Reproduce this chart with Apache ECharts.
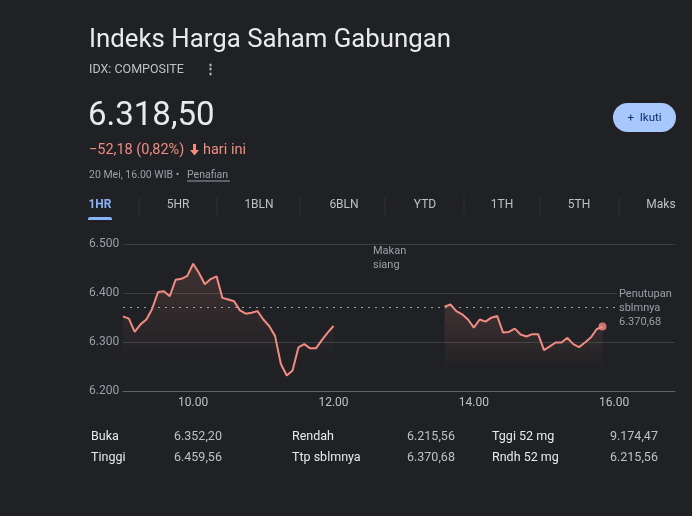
<!DOCTYPE html>
<html><head><meta charset="utf-8">
<script src="https://cdn.jsdelivr.net/npm/echarts@6/dist/echarts.min.js"></script>
<style>html,body{margin:0;padding:0;background:#202124;}#c{width:692px;height:516px;}</style>
</head><body><div id="c"></div>
<script>
var morningTimes = ["09:00","09:05","09:10","09:15","09:20","09:25","09:30","09:35","09:40","09:45","09:50","09:55","10:00","10:05","10:10","10:15","10:20","10:25","10:30","10:35","10:40","10:45","10:50","10:55","11:00","11:05","11:10","11:15","11:20","11:25","11:30","11:35","11:40","11:45","11:50","11:55","12:00"];
var morningValues = [6352.2,6347.6,6320.6,6336.0,6346.0,6368.0,6402.0,6403.6,6393.5,6427.0,6429.0,6435.0,6459.6,6440.7,6418.0,6428.5,6434.0,6390.0,6386.7,6383.0,6364.5,6357.7,6359.7,6363.0,6346.0,6332.7,6312.5,6255.0,6231.6,6241.7,6289.0,6295.7,6287.0,6287.0,6303.8,6319.3,6332.7];
var afternoonTimes = ["13:35","13:40","13:45","13:50","13:55","14:00","14:05","14:10","14:15","14:20","14:25","14:30","14:35","14:40","14:45","14:50","14:55","15:00","15:05","15:10","15:15","15:20","15:25","15:30","15:35","15:40","15:45","15:50"];
var afternoonValues = [6371.9,6376.6,6363.0,6356.4,6346.0,6329.4,6346.0,6341.5,6349.6,6353.0,6319.3,6320.6,6327.3,6315.2,6311.2,6316.0,6316.0,6283.5,6291.0,6299.0,6299.0,6308.5,6295.7,6289.6,6299.0,6309.0,6326.0,6331.4];
var prevClose = 6370.68;
var yTicks = [6200, 6300, 6400, 6500];
var xTickLabels = ["10.00","12.00","14.00","16.00"];
var tabs = ["1HR","5HR","1BLN","6BLN","YTD","1TH","5TH","Maks"];
var statLabels = [["Buka","Tinggi"],["Rendah","Ttp sblmnya"],["Tggi 52 mg","Rndh 52 mg"]];
var statValues = [["6.352,20","6.459,56"],["6.215,56","6.370,68"],["9.174,47","6.215,56"]];

function toHours(t){var p=t.split(":");return +p[0]+(+p[1])/60;}
function pairs(ts,vs){return ts.map(function(t,i){return [toHours(t),vs[i]];});}
function fmtY(v){var s=String(Math.round(v));return s.charAt(0)+"."+s.slice(1);}

var FONT = "Roboto, 'Noto Sans', sans-serif";
var LINE = "#f28b82";
var chart = echarts.init(document.getElementById('c'), null, {renderer:'canvas'});

function txt(x,y,text,size,color,opts){
  opts = opts||{};
  return {type:'text', z:100, x:x, y:y, style:{text:text, fill:color,
    font:(opts.weight||'normal')+' '+size+'px '+FONT,
    textAlign:opts.align||'left', align:opts.align||'left',
    textVerticalAlign:'middle', verticalAlign:'middle'}};
}

var graphics = [];
graphics.push(txt(89,41,"Indeks Harga Saham Gabungan",25.8,"#e8eaed"));
graphics.push(txt(89,70,"IDX: COMPOSITE",12.5,"#bdc1c6"));
graphics.push(txt(204,70,"⋮",13,"#bdc1c6",{weight:'bold'}));
graphics.push(txt(88,117,"6.318,50",33,"#e8eaed"));
graphics.push(txt(89,150,"−52,18 (0,82%)",14.5,LINE));
graphics.push({type:'polygon', z:100, shape:{points:[[193,144],[196,144],[196,150],[199,150],[194.5,155.5],[190,150],[193,150]]}, style:{fill:LINE}});
graphics.push(txt(203,150,"hari ini",14.5,LINE));
graphics.push(txt(89,175,"20 Mei, 16.00 WIB • ",10.5,"#9aa0a6"));
graphics.push(txt(187,175,"Penafian",10.5,"#9aa0a6"));
graphics.push({type:'line', z:100, shape:{x1:187,y1:181,x2:230,y2:181}, style:{stroke:'#9aa0a6',lineWidth:1}});
// button
graphics.push({type:'rect', z:100, shape:{x:613,y:103,width:63,height:29,r:14.5}, style:{fill:'#a8c7fa'}});
graphics.push(txt(644.5,118,"+  Ikuti",11.5,"#062e6f",{align:'center'}));
// tabs
var tabX = [100,178,259,344,425,502,579,661];
tabs.forEach(function(t,i){
  graphics.push(txt(tabX[i],205,t,12, i===0?'#8ab4f8':'#bdc1c6',{align:'center',weight:i===0?'bold':'normal'}));
});
[139,217,300,385,464,540,619].forEach(function(x){
  graphics.push({type:'line', z:100, shape:{x1:x,y1:197,x2:x,y2:215}, style:{stroke:'#303134',lineWidth:1}});
});
graphics.push({type:'rect', z:100, shape:{x:88,y:217,width:24,height:3,r:[2,2,0,0]}, style:{fill:'#8ab4f8'}});
// lunch label
graphics.push(txt(373,251,"Makan",11,"#9aa0a6"));
graphics.push(txt(373,265,"siang",11,"#9aa0a6"));
// previous close label with background
graphics.push({type:'rect', z:99, shape:{x:617,y:287,width:75,height:46}, style:{fill:'#202124'}});
graphics.push(txt(619,294,"Penutupan",11,"#9aa0a6"));
graphics.push(txt(619,308,"sblmnya",11,"#9aa0a6"));
graphics.push(txt(619,322,"6.370,68",11,"#9aa0a6"));
// stats table
var colLX=[91,292,492], colVX=[174,407,610], rowY=[437,458];
for(var c=0;c<3;c++){for(var r=0;r<2;r++){
  graphics.push(txt(colLX[c],rowY[r],statLabels[c][r],12.5,"#e8eaed"));
  graphics.push(txt(colVX[c],rowY[r],statValues[c][r],12.5,"#bdc1c6"));
}}

var area = {origin:'start', color:{type:'linear',x:0,y:0,x2:0,y2:1,colorStops:[
  {offset:0,color:'rgba(242,139,130,0.22)'},{offset:0.75,color:'rgba(242,139,130,0.0)'},{offset:1,color:'rgba(242,139,130,0)'}]}};

var am = pairs(morningTimes, morningValues);
var pm = pairs(afternoonTimes, afternoonValues);

chart.setOption({
  backgroundColor:'#202124',
  animation:false,
  textStyle:{fontFamily:FONT},
  grid:{left:123,right:17,top:244,bottom:125},
  xAxis:{type:'value', min:9, max:16.867, interval:1,
    axisLine:{show:true,lineStyle:{color:'#5f6368'}},
    axisTick:{show:false},
    splitLine:{show:false},
    axisLabel:{show:true, margin:6, color:'#bdc1c6', fontSize:12, fontFamily:FONT,
      showMinLabel:false, showMaxLabel:false,
      formatter:function(v){var h=Math.round(v); var s=(h<10?'0':'')+h+'.00'; return xTickLabels.indexOf(s)>=0?s:'';}}},
  yAxis:{type:'value', min:yTicks[0], max:yTicks[yTicks.length-1], interval:100,
    axisLine:{show:false}, axisTick:{show:false},
    splitLine:{lineStyle:{color:'#3c4043',width:1}},
    axisLabel:{margin:34, align:'left', color:'#9aa0a6', fontSize:12, fontFamily:FONT, formatter:fmtY}},
  series:[
    {type:'line', data:am, showSymbol:false, lineStyle:{color:LINE,width:2}, itemStyle:{color:LINE}, areaStyle:area, z:3,
      markLine:{silent:true, symbol:['none','none'], label:{show:false},
        lineStyle:{color:'#9aa0a6', type:[2,5], width:1},
        data:[{yAxis:prevClose}]}},
    {type:'line', data:pm, showSymbol:false, lineStyle:{color:LINE,width:2}, itemStyle:{color:LINE}, areaStyle:area, z:3},
    {type:'scatter', data:[pm[pm.length-1]], symbolSize:8, itemStyle:{color:LINE}, z:4}
  ],
  graphic:{elements:graphics}
});
</script></body></html>
